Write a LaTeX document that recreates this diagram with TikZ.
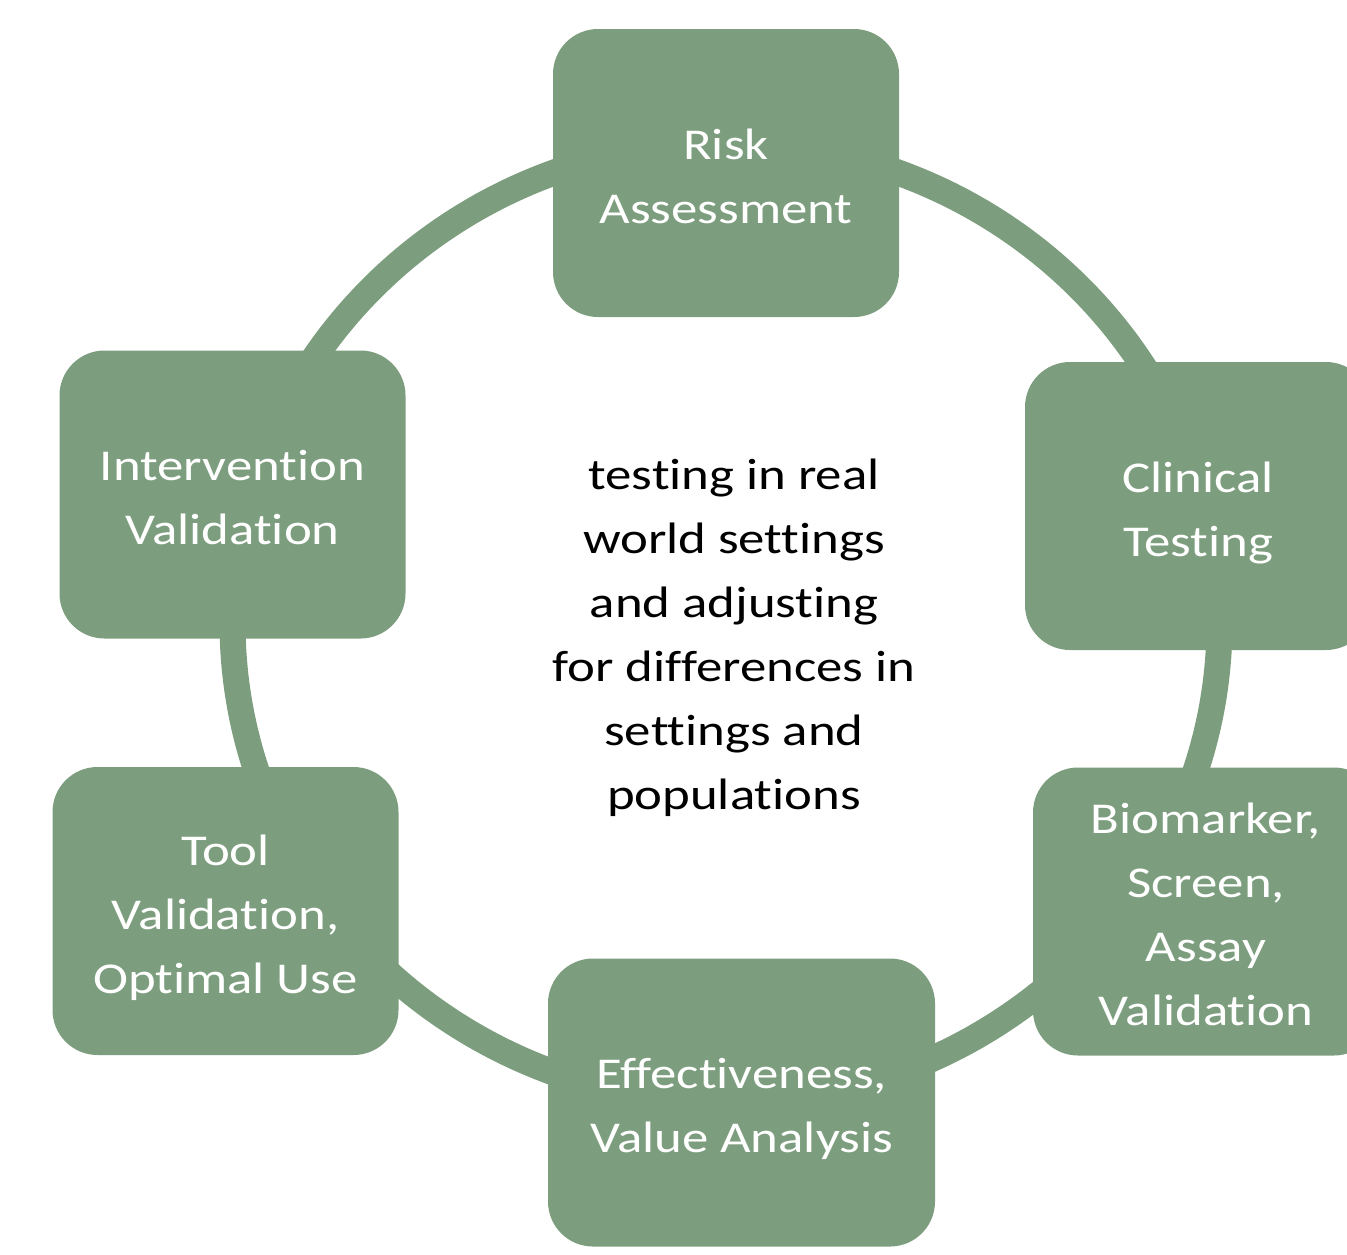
\documentclass[tikz,border=0pt]{standalone}
\usepackage{fontspec}
\setmainfont[FakeStretch=1.2, Ligatures=CommonOff]{Carlito}
\definecolor{sage}{RGB}{125,158,126}
\newcommand\tstrut{\rule[-6pt]{0pt}{30pt}}
\begin{document}
\begin{tikzpicture}[x=0.5pt,y=-0.5pt,
  stage/.style={draw=none, fill=sage, rounded corners=22.5pt, inner sep=0pt,
    align=center, text=white, font=\fontsize{22pt}{32pt}\selectfont,
    minimum width=173pt, minimum height=144pt},
  ring/.style={draw=sage, line width=13pt},
  coretext/.style={inner sep=0pt, align=center, text=black,
    font=\fontsize{22pt}{32pt}\selectfont}]
\useasboundingbox (0,0) rectangle (1347,1254);
\clip (0,0) rectangle (1347,1254);
\coordinate (hub) at (726,622.6);
\draw[ring] (hub) ellipse [x radius=246.75pt, y radius=240pt];
\node[stage] (risk) at (726,173) {\tstrut Risk\\Assessment\tstrut};
\node[stage] (clin) at (1198,506) {\tstrut Clinical\\Testing\tstrut};
\node[stage] (bio) at (1206,911.5) {\tstrut Biomarker,\\Screen,\\Assay\\Validation\tstrut};
\node[stage, minimum width=193.5pt] (eff) at (741.5,1102.5) {\tstrut Effectiveness,\\Value Analysis\tstrut};
\node[stage] (tool) at (225.5,911) {\tstrut Tool\\Validation,\\Optimal Use\tstrut};
\node[stage] (inter) at (232.5,494.5) {\tstrut Intervention\\Validation\tstrut};
\node[coretext] (core) at (734,631) {\tstrut testing in real\\world settings\\and adjusting\\for differences in\\settings and\\populations\tstrut};
\end{tikzpicture}
\end{document}
